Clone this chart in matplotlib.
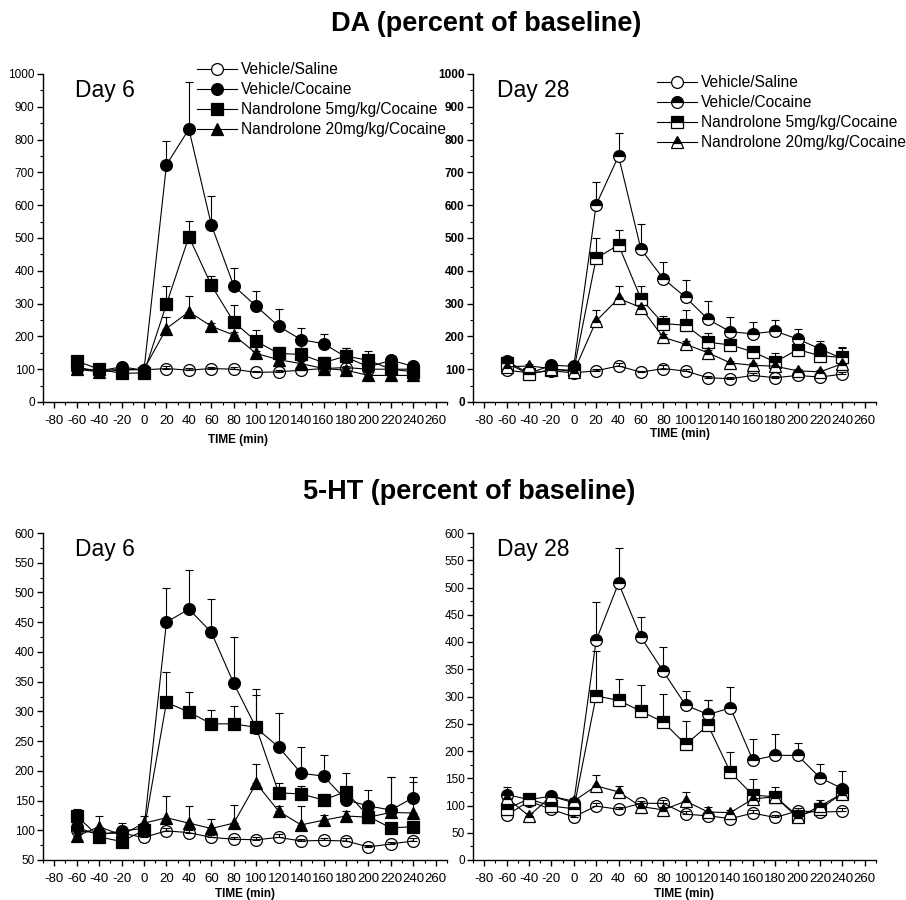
import numpy as np
import matplotlib
matplotlib.use("Agg")
import matplotlib.pyplot as plt
from matplotlib.ticker import MultipleLocator
from matplotlib.lines import Line2D

plt.rcParams['font.family'] = ['Liberation Sans', 'DejaVu Sans']
plt.rcParams['axes.unicode_minus'] = False

time = [-60, -40, -20, 0, 20, 40, 60, 80, 100, 120, 140, 160, 180, 200, 220, 240]
labels = ["Vehicle/Saline", "Vehicle/Cocaine", "Nandrolone 5mg/kg/Cocaine", "Nandrolone 20mg/kg/Cocaine"]

# DA Day 6
da6_sal = [102, 95, 100, 98, 102, 97, 102, 100, 90, 92, 97, 102, 105, 100, 100, 100]
da6_sal_err = [5, 5, 5, 5, 8, 6, 6, 6, 5, 6, 6, 6, 6, 5, 5, 5]
da6_coc = [105, 95, 107, 97, 723, 832, 540, 354, 292, 231, 190, 178, 137, 107, 127, 109]
da6_coc_err = [8, 10, 8, 8, 74, 143, 89, 55, 47, 54, 36, 28, 29, 10, 8, 6]
da6_n5 = [125, 100, 87, 89, 298, 504, 356, 244, 185, 148, 145, 120, 140, 127, 100, 92]
da6_n5_err = [8, 10, 8, 6, 57, 47, 28, 53, 36, 20, 43, 17, 26, 29, 8, 6]
da6_n20 = [100, 92, 97, 100, 224, 275, 231, 204, 148, 129, 117, 102, 97, 81, 81, 81]
da6_n20_err = [5, 5, 5, 5, 34, 49, 10, 10, 8, 8, 8, 6, 6, 5, 5, 5]

# DA Day 28
da28_sal = [97, 89, 95, 89, 95, 110, 91, 102, 94, 74, 71, 81, 74, 81, 76, 85]
da28_sal_err = [5, 5, 5, 5, 6, 8, 5, 10, 8, 6, 6, 6, 6, 6, 5, 5]
da28_coc = [125, 87, 112, 109, 601, 750, 466, 376, 319, 252, 214, 208, 216, 192, 162, 132]
da28_coc_err = [8, 6, 8, 8, 69, 70, 77, 51, 53, 56, 44, 36, 34, 30, 24, 33]
da28_n5 = [119, 85, 99, 97, 438, 479, 315, 239, 234, 182, 174, 153, 122, 160, 141, 136]
da28_n5_err = [6, 6, 6, 6, 63, 44, 40, 23, 48, 27, 10, 10, 26, 10, 10, 32]
da28_n20 = [107, 110, 102, 92, 247, 316, 288, 197, 176, 150, 119, 112, 109, 95, 92, 117]
da28_n20_err = [5, 5, 5, 5, 35, 39, 20, 10, 10, 8, 6, 6, 6, 5, 5, 6]

# 5-HT Day 6
ht6_sal = [100, 95, 95, 88, 99, 96, 88, 85, 84, 88, 82, 83, 82, 72, 77, 82]
ht6_sal_err = [5, 5, 5, 5, 5, 5, 4, 4, 4, 5, 4, 4, 5, 4, 4, 5]
ht6_coc = [105, 92, 99, 103, 450, 472, 433, 347, 272, 240, 196, 191, 151, 141, 134, 155]
ht6_coc_err = [8, 6, 14, 10, 58, 66, 56, 78, 65, 58, 44, 35, 20, 26, 55, 34]
ht6_n5 = [124, 89, 81, 100, 315, 299, 279, 279, 273, 163, 161, 151, 165, 123, 104, 106]
ht6_n5_err = [12, 6, 6, 6, 52, 33, 23, 30, 54, 17, 14, 10, 31, 8, 6, 6]
ht6_n20 = [90, 106, 92, 112, 121, 112, 103, 112, 179, 132, 109, 117, 124, 122, 130, 129]
ht6_n20_err = [6, 18, 8, 12, 37, 29, 16, 31, 33, 8, 32, 8, 8, 8, 59, 53]

# 5-HT Day 28
ht28_sal = [82, 108, 93, 79, 99, 93, 104, 104, 84, 81, 76, 86, 78, 90, 88, 89]
ht28_sal_err = [5, 6, 5, 5, 6, 5, 5, 6, 5, 5, 5, 5, 5, 5, 5, 6]
ht28_coc = [120, 111, 117, 105, 403, 508, 409, 346, 284, 267, 279, 183, 192, 192, 151, 131]
ht28_coc_err = [14, 8, 8, 6, 70, 64, 36, 45, 26, 26, 38, 39, 40, 22, 26, 33]
ht28_n5 = [94, 112, 99, 94, 301, 293, 273, 253, 212, 247, 161, 119, 116, 81, 93, 123]
ht28_n5_err = [6, 10, 6, 6, 82, 40, 48, 51, 43, 47, 37, 30, 18, 6, 8, 12]
ht28_n20 = [114, 81, 117, 108, 136, 125, 98, 92, 108, 88, 87, 112, 116, 78, 99, 122]
ht28_n20_err = [6, 5, 6, 5, 20, 11, 6, 5, 17, 10, 5, 6, 6, 5, 12, 8]

W, H = 906, 900
fig = plt.figure(figsize=(W / 100, H / 100), dpi=100)

def ax_rect(l, r, t, b):
    return [l / W, 1 - b / H, (r - l) / W, (b - t) / H]

# rect, series, errors, half-filled, ylim, major, minor, day label, bold y ticks, xlabel (x px, y px)
axes_info = [
    (ax_rect(43, 447, 74, 402), [da6_sal, da6_coc, da6_n5, da6_n20],
     [da6_sal_err, da6_coc_err, da6_n5_err, da6_n20_err], False, (0, 1000), 100, 50, "Day 6", False, (238, 440)),
    (ax_rect(473, 876, 74, 402), [da28_sal, da28_coc, da28_n5, da28_n20],
     [da28_sal_err, da28_coc_err, da28_n5_err, da28_n20_err], True, (0, 1000), 100, 50, "Day 28", True, (680, 434)),
    (ax_rect(43, 447, 533, 860), [ht6_sal, ht6_coc, ht6_n5, ht6_n20],
     [ht6_sal_err, ht6_coc_err, ht6_n5_err, ht6_n20_err], False, (50, 600), 50, 25, "Day 6", False, (245, 894)),
    (ax_rect(473, 876, 533, 860), [ht28_sal, ht28_coc, ht28_n5, ht28_n20],
     [ht28_sal_err, ht28_coc_err, ht28_n5_err, ht28_n20_err], True, (0, 600), 50, 25, "Day 28", False, (684, 894)),
]

markers = ['o', 'o', 's', '^']
ms = [8.5, 8.5, 8, 8.5]

for i, (rect, series, errs, half, ylim, ymaj, ymin, daylab, boldy, xlab) in enumerate(axes_info):
    ax = fig.add_axes(rect)
    for k, (vals, err) in enumerate(zip(series, errs)):
        ax.errorbar(time, vals, yerr=[np.zeros(len(err)), err], fmt='none',
                    ecolor='black', elinewidth=0.8, capsize=3, capthick=0.8, zorder=1)
        if k == 0:
            ax.plot(time, vals, color='black', lw=0.8, marker='o', ms=ms[k],
                    mfc='none', mec='black', mew=0.9, zorder=3)
        elif half:
            ax.plot(time, vals, color='black', lw=0.8, marker=markers[k], ms=ms[k],
                    mfc='black', mfcalt='white', fillstyle='top', mec='black', mew=0.9, zorder=3)
        else:
            ax.plot(time, vals, color='black', lw=0.8, marker=markers[k], ms=ms[k],
                    mfc='black', mec='black', mew=0.9, zorder=3)
    ax.set_xlim(-90, 270)
    ax.set_ylim(*ylim)
    ax.xaxis.set_major_locator(MultipleLocator(20))
    ax.xaxis.set_minor_locator(MultipleLocator(10))
    ax.yaxis.set_major_locator(MultipleLocator(ymaj))
    ax.yaxis.set_minor_locator(MultipleLocator(ymin))
    for s in ['top', 'right']:
        ax.spines[s].set_visible(False)
    for s in ['left', 'bottom']:
        ax.spines[s].set_linewidth(1.0)
    ax.tick_params(which='major', direction='out', length=4, width=1.0, pad=2)
    ax.tick_params(axis='x', which='major', pad=5)
    ax.tick_params(which='minor', direction='out', length=2, width=0.8)
    ax.tick_params(axis='x', labelsize=9.5)
    ax.tick_params(axis='y', labelsize=8.5)
    if boldy:
        for t in ax.get_yticklabels():
            t.set_fontweight('bold')
    fig.text(xlab[0] / W, 1 - xlab[1] / H, "TIME (min)", fontsize=8.5, fontweight='bold',
             ha='center', va='center')
    ax.text(0.08 if daylab == "Day 6" else 0.06, 0.985, daylab, transform=ax.transAxes,
            fontsize=16.5, va='top', ha='left')

def legend_handles(half):
    hs = []
    for k in range(4):
        if k == 0:
            hs.append(Line2D([], [], color='black', lw=0.8, marker='o', ms=ms[k], mfc='white', mec='black', mew=0.9))
        elif half:
            hs.append(Line2D([], [], color='black', lw=0.8, marker=markers[k], ms=ms[k], mfc='black',
                             mfcalt='white', fillstyle='top', mec='black', mew=0.9))
        else:
            hs.append(Line2D([], [], color='black', lw=0.8, marker=markers[k], ms=ms[k], mfc='black', mec='black', mew=0.9))
    return hs

fig.legend(handles=legend_handles(False), labels=labels, loc='upper left',
           bbox_to_anchor=(197 / W, 1 - 62 / H), frameon=False, fontsize=11.2,
           handlelength=2.6, handletextpad=0.2, labelspacing=0.33, borderpad=0, borderaxespad=0)
fig.legend(handles=legend_handles(True), labels=labels, loc='upper left',
           bbox_to_anchor=(657 / W, 1 - 75 / H), frameon=False, fontsize=11.2,
           handlelength=2.6, handletextpad=0.2, labelspacing=0.33, borderpad=0, borderaxespad=0)

fig.text(486 / W, 1 - 24 / H, "DA (percent of baseline)", fontsize=19.5, fontweight='bold',
         ha='center', va='center')
fig.text(469 / W, 1 - 492 / H, "5-HT (percent of baseline)", fontsize=19.5, fontweight='bold',
         ha='center', va='center')

fig.savefig("out.png", dpi=100)
